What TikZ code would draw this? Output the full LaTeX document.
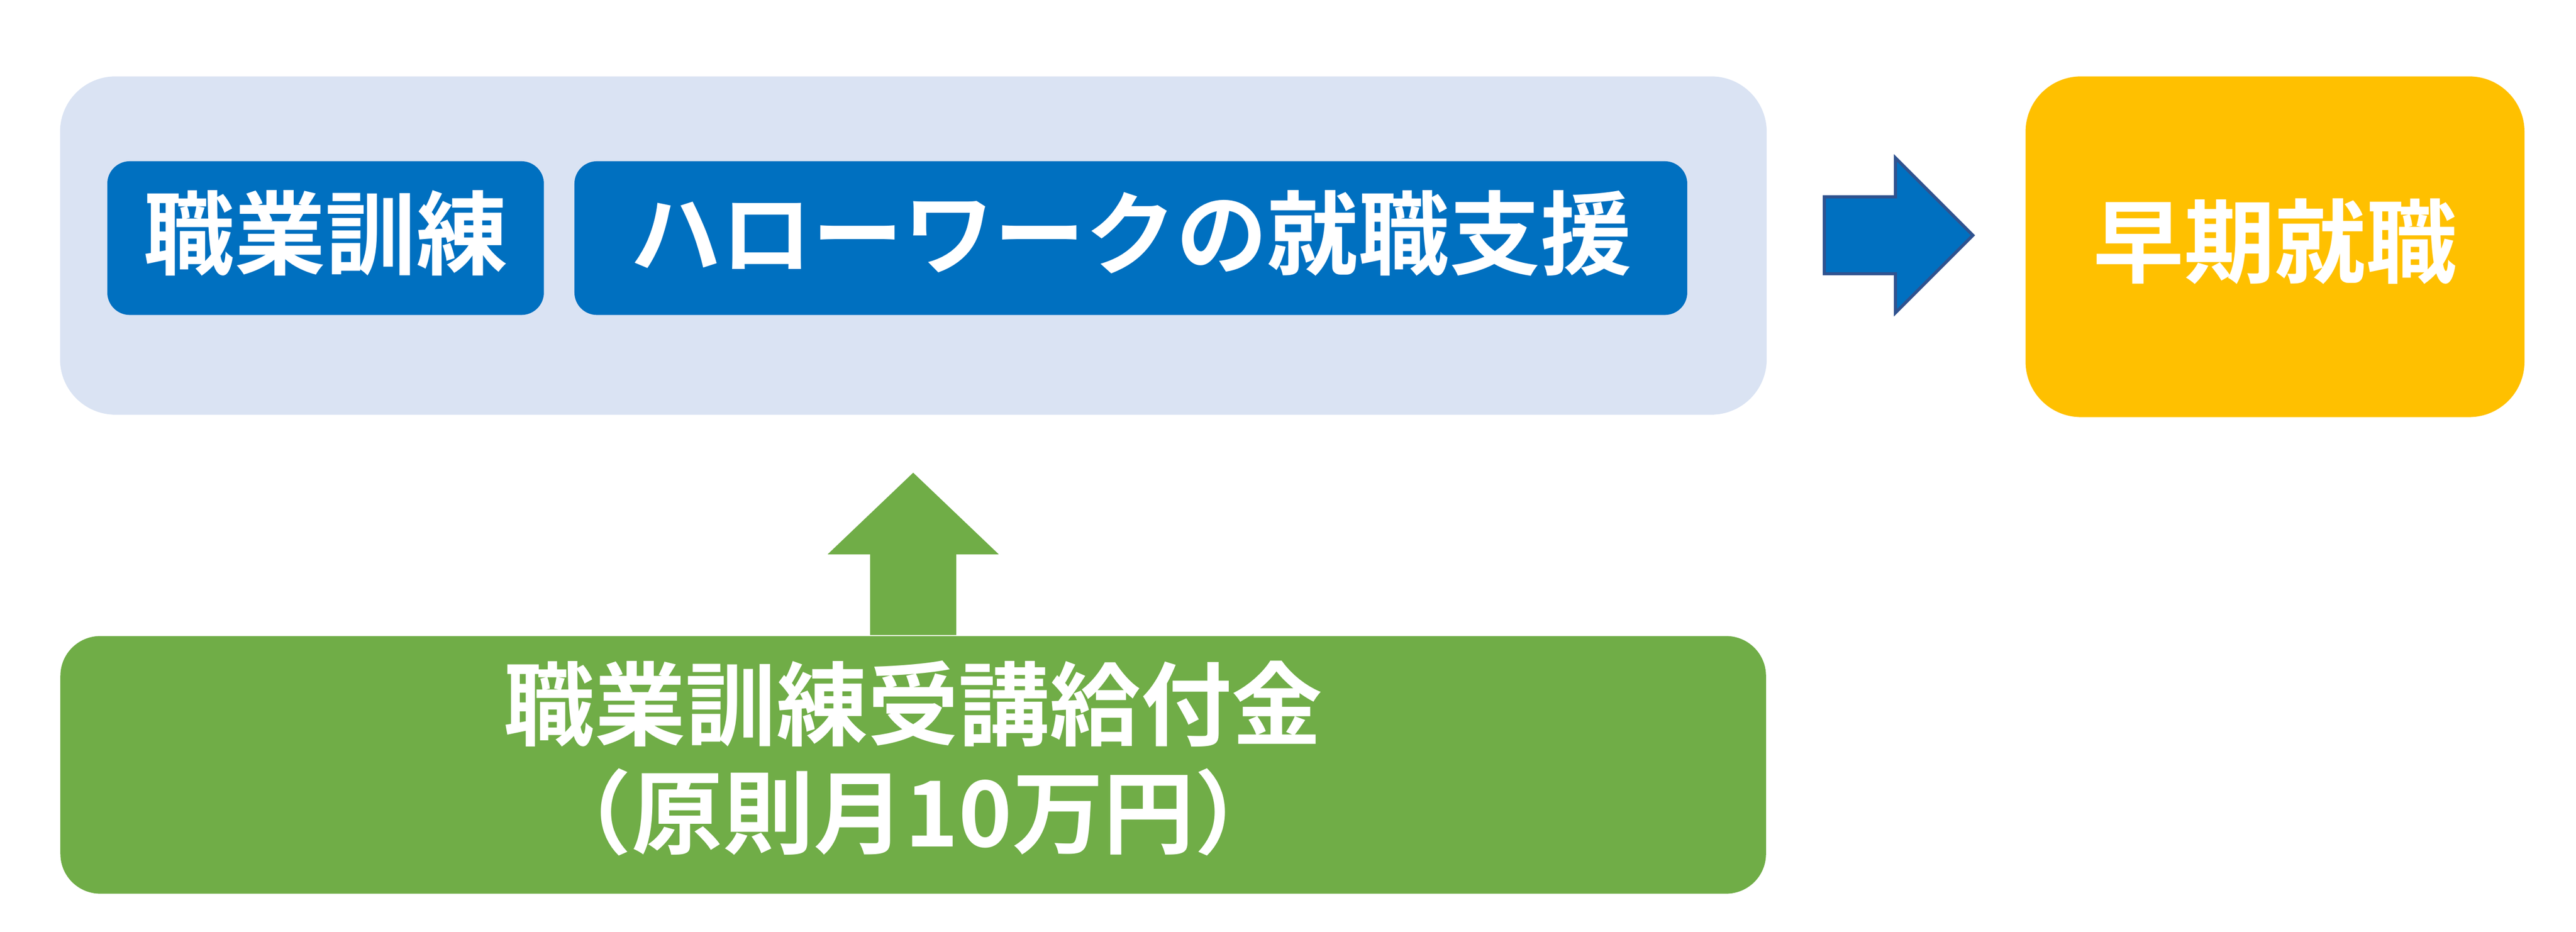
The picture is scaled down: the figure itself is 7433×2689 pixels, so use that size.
\documentclass[tikz,border=0pt]{standalone}
\usepackage{fontspec}
\newfontfamily\jpfont{Noto Sans CJK JP}[BoldFont={Noto Sans CJK JP Bold}]
\usetikzlibrary{positioning,shapes.arrows}
\definecolor{panelblue}{HTML}{DAE3F3}
\definecolor{boxblue}{HTML}{0070C0}
\definecolor{arrowedge}{HTML}{2F528F}
\definecolor{goalyellow}{HTML}{FFC000}
\definecolor{aidgreen}{HTML}{70AD47}
\newcommand{\uptext}[1]{\raisebox{2.1pt}[\height][\depth]{#1}}
\tikzset{
  label font/.style={font=\jpfont\bfseries\fontsize{37.4}{41}\selectfont, text=white},
  blue box/.style={label font, fill=boxblue, rounded corners=0.325cm, minimum height=2.22cm, inner sep=0pt},
  big box/.style={label font, rounded corners=0.8cm, inner sep=0pt}
}

\begin{document}
\begin{tikzpicture}[x=0.005cm,y=-0.005cm]
\useasboundingbox (0,0) rectangle (7433,2689);
\path (2635.5,708.5) node[big box, fill=panelblue, minimum width=24.645cm, minimum height=4.885cm](panel){}
 (939.5,687) node[blue box, minimum width=6.305cm](training){\uptext{職業訓練}}
 (3263,687) node[blue box, minimum width=16.07cm](hellowork){\uptext{ハローワークの就職支援}}
 (6564.5,712) node[big box, fill=goalyellow, minimum width=7.205cm, minimum height=4.92cm](job){\uptext{早期就職}}
 (2635,2207) node[big box, fill=aidgreen, rounded corners=0.575cm, minimum width=24.63cm, minimum height=3.72cm](benefit){\raisebox{-1.5pt}[\height][\depth]{\begin{tabular}{@{}c@{}}職業訓練受講給付金\\（原則月10万円）\end{tabular}}};

\node[single arrow, fill=boxblue, draw=arrowedge, line width=1.3pt, inner xsep=0pt, inner ysep=0.5325cm, minimum height=2.145cm, minimum width=2.19cm, single arrow head extend=0.5625cm, anchor=tail] (toJob) at (5259.5,679) {};
\node[single arrow, fill=aidgreen, inner xsep=0pt, inner ysep=0.615cm, rotate=90, minimum height=2.345cm, minimum width=2.455cm, single arrow head extend=0.6125cm, single arrow tip angle=92.7, anchor=tail] (toPanel) at (benefit.north) {};
\end{tikzpicture}
\end{document}
